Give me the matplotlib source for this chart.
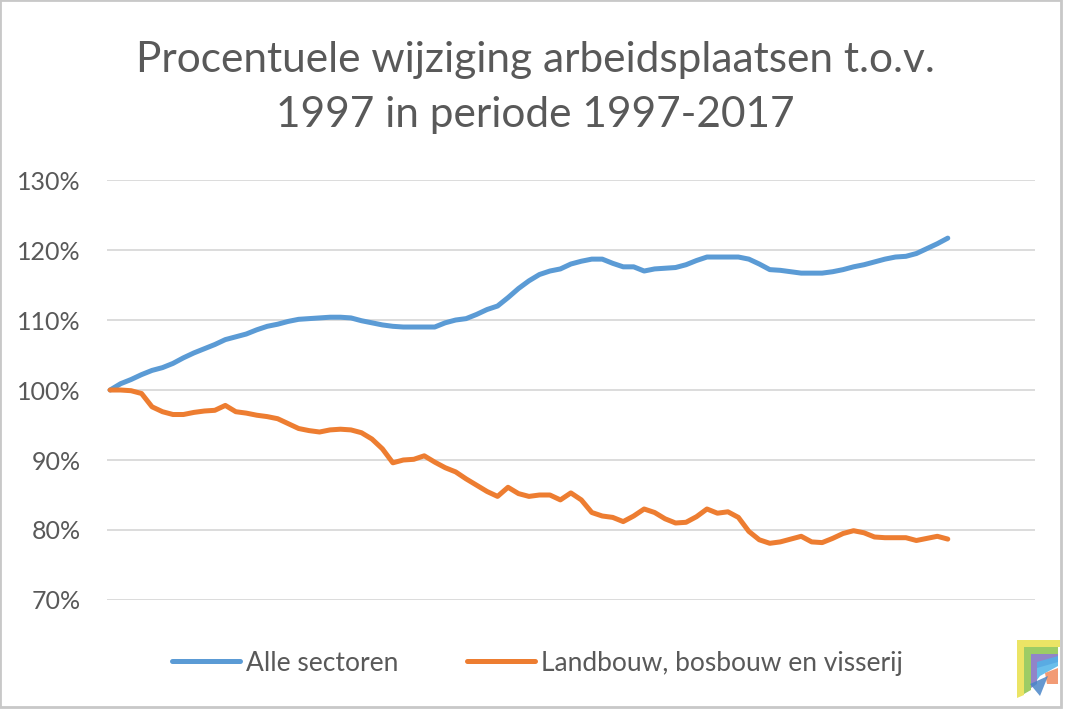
import matplotlib
matplotlib.use("Agg")
import matplotlib.pyplot as plt
from matplotlib.patches import Polygon
import numpy as np

plt.rcParams['font.family'] = ['Lato', 'DejaVu Sans']

title_lines = ["Procentuele wijziging arbeidsplaatsen t.o.v.", "1997 in periode 1997-2017"]
series_names = ["Alle sectoren", "Landbouw, bosbouw en visserij"]
y_ticks = [70, 80, 90, 100, 110, 120, 130]
y_tick_labels = ["70%", "80%", "90%", "100%", "110%", "120%", "130%"]

# quarterly index values, 1997 Q1 = 100
alle_sectoren = [
    100.0, 100.9, 101.5, 102.2, 102.8, 103.2, 103.8, 104.6, 105.3, 105.9,
    106.5, 107.2, 107.6, 108.0, 108.6, 109.1, 109.4, 109.8, 110.1, 110.2,
    110.3, 110.4, 110.4, 110.3, 109.9, 109.6, 109.3, 109.1, 109.0, 109.0,
    109.0, 109.0, 109.6, 110.0, 110.2, 110.8, 111.5, 112.0, 113.2, 114.5,
    115.6, 116.5, 117.0, 117.3, 118.0, 118.4, 118.7, 118.7, 118.1, 117.6,
    117.6, 117.0, 117.3, 117.4, 117.5, 117.9, 118.5, 119.0, 119.0, 119.0,
    119.0, 118.7, 118.0, 117.2, 117.1, 116.9, 116.7, 116.7, 116.7, 116.9,
    117.2, 117.6, 117.9, 118.3, 118.7, 119.0, 119.1, 119.5, 120.2, 120.9,
    121.7,
]
landbouw = [
    100.0, 100.0, 99.9, 99.5, 97.6, 96.9, 96.5, 96.5, 96.8, 97.0,
    97.1, 97.8, 96.9, 96.7, 96.4, 96.2, 95.9, 95.2, 94.5, 94.2,
    94.0, 94.3, 94.4, 94.3, 93.9, 93.0, 91.6, 89.6, 90.0, 90.1,
    90.6, 89.7, 88.9, 88.3, 87.3, 86.4, 85.5, 84.8, 86.1, 85.2,
    84.8, 85.0, 85.0, 84.3, 85.3, 84.3, 82.5, 82.0, 81.8, 81.2,
    82.0, 83.0, 82.5, 81.6, 81.0, 81.1, 81.9, 83.0, 82.4, 82.6,
    81.8, 79.8, 78.6, 78.1, 78.3, 78.7, 79.1, 78.3, 78.2, 78.8,
    79.5, 79.9, 79.6, 79.0, 78.9, 78.9, 78.9, 78.5, 78.8, 79.1,
    78.7,
]

colors = ["#5b9bd5", "#ed7d31"]
text_color = "#595959"

fig = plt.figure(figsize=(10.7, 7.13), dpi=100)
ax = fig.add_axes([0.1, 0.1585, 0.867, 0.589])

x = np.arange(len(alle_sectoren))
ax.plot(x, alle_sectoren, color=colors[0], lw=3.6, label=series_names[0],
        solid_joinstyle="round", solid_capstyle="round")
ax.plot(x, landbouw, color=colors[1], lw=3.6, label=series_names[1],
        solid_joinstyle="round", solid_capstyle="round")

ax.set_xlim(-0.3, 88.3)
ax.set_ylim(70, 130)
ax.set_yticks(y_ticks)
ax.set_yticklabels(y_tick_labels)
ax.set_xticks([])
ax.grid(axis="y", color="#d9d9d9", lw=1.3)
ax.set_axisbelow(True)
for s in ax.spines.values():
    s.set_visible(False)
ax.tick_params(axis="y", length=0, pad=19, labelsize=18, labelcolor=text_color)

fig.text(0.5, 0.899, title_lines[0], ha="center", va="baseline", fontsize=30.5,
         color=text_color)
fig.text(0.5, 0.822, title_lines[1], ha="center", va="baseline", fontsize=30.5,
         color=text_color)

leg = fig.legend(loc="center", bbox_to_anchor=(0.502, 0.070), ncol=2,
                 frameon=False, fontsize=19, handlelength=2.6,
                 columnspacing=2.6, handletextpad=0.2)
for t in leg.get_texts():
    t.set_color(text_color)

# light border
fig.patches.append(plt.Rectangle((0.0, 0.008), 0.992, 0.992, transform=fig.transFigure,
                                 fill=False, edgecolor="#c8c8c8", lw=2))

# small logo in the corner
W, H = 1070.0, 713.0
def P(pts, c):
    fig.patches.append(Polygon([(px / W, 1 - py / H) for px, py in pts], closed=True,
                               transform=fig.transFigure, facecolor=c,
                               edgecolor="none", alpha=0.85))
P([(1017, 640), (1060, 640), (1060, 647), (1024, 647), (1024, 695), (1017, 698)], "#e8e04a")
P([(1024, 647), (1058, 647), (1058, 654), (1031, 654), (1031, 690), (1024, 694)], "#8bc34a")
P([(1031, 654), (1058, 654), (1058, 662), (1037, 668), (1037, 684), (1031, 688)], "#7e6fc0")
P([(1037, 662), (1058, 656), (1058, 666), (1040, 676), (1037, 680)], "#4fb3e8")
P([(1045, 673), (1058, 668), (1058, 684), (1047, 684)], "#f08a5d")
P([(1030, 684), (1048, 676), (1040, 696)], "#4a86c8")

fig.savefig("out.png", dpi=100)
